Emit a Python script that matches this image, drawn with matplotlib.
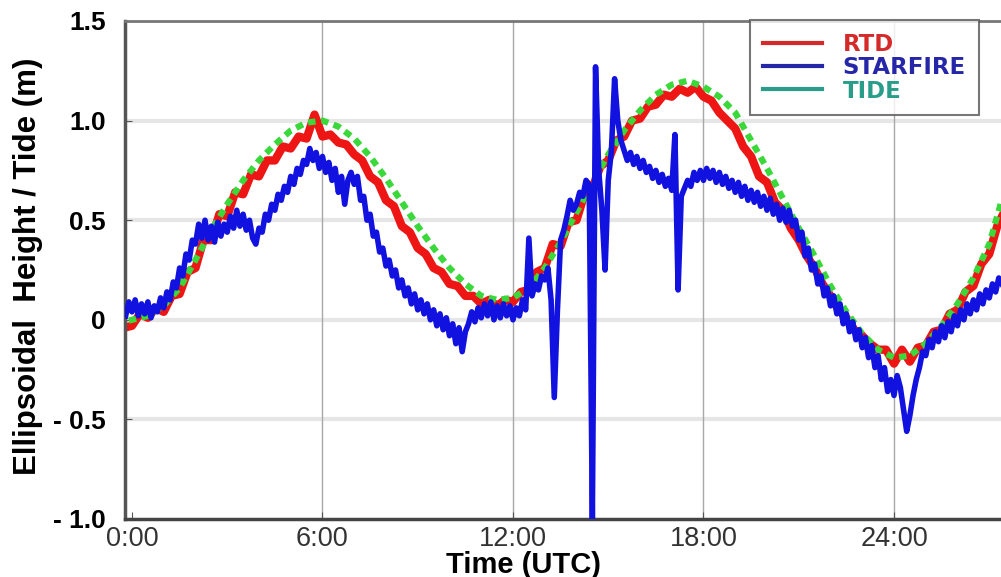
import numpy as np
import matplotlib.pyplot as plt
from matplotlib.lines import Line2D

# ---- data (hours UTC, metres) ----
# TIDE, sampled every 0.5 h starting at -0.5 h
tide_t0, tide_dt = -0.5, 0.5
tide = [-0.02,
        0.00, 0.02, 0.07, 0.16, 0.30, 0.45, 0.58, 0.70, 0.80, 0.88,
        0.95, 0.99, 1.00, 0.97, 0.91, 0.82, 0.71, 0.59, 0.47, 0.36,
        0.26, 0.18, 0.12, 0.10, 0.11, 0.16, 0.26, 0.39, 0.54, 0.69,
        0.83, 0.95, 1.05, 1.13, 1.18, 1.20, 1.17, 1.12, 1.04, 0.90,
        0.76, 0.61, 0.46, 0.32, 0.17, 0.04, -0.07, -0.15, -0.19, -0.18,
        -0.12, -0.03, 0.08, 0.21, 0.38, 0.66]

# RTD, sampled every 0.25 h starting at -0.25 h
rtd_t0, rtd_dt = -0.25, 0.25
rtd = [-0.04,
       -0.03, 0.03, 0.01, 0.06,
       0.04, 0.12, 0.13, 0.24,
       0.26, 0.40, 0.40, 0.53,
       0.52, 0.64, 0.63, 0.73,
       0.72, 0.80, 0.80, 0.87,
       0.86, 0.92, 0.91, 1.03,
       0.92, 0.93, 0.89, 0.88,
       0.83, 0.80, 0.72, 0.69,
       0.60, 0.57, 0.47, 0.44,
       0.36, 0.33, 0.26, 0.24,
       0.18, 0.17, 0.12, 0.12,
       0.08, 0.10, 0.07, 0.10,
       0.09, 0.14, 0.15, 0.24,
       0.26, 0.38, 0.37, 0.49,
       0.50, 0.63, 0.66, 0.77,
       0.80, 0.90, 0.92, 1.00,
       1.01, 1.07, 1.08, 1.13,
       1.12, 1.16, 1.14, 1.17,
       1.12, 1.10, 1.04, 1.00,
       0.96, 0.87, 0.82, 0.72,
       0.69, 0.59, 0.55, 0.46,
       0.40, 0.32, 0.26, 0.18,
       0.12, 0.05, 0.01, -0.05,
       -0.08, -0.12, -0.15, -0.15,
       -0.22, -0.15, -0.21, -0.14,
       -0.13, -0.06, -0.05, 0.03,
       0.05, 0.14, 0.17, 0.28,
       0.33, 0.47, 0.55]

# STARFIRE, sampled every 0.1 h starting at -0.2 h
sf_t0, sf_dt = -0.2, 0.1
starfire = [0.02, 0.09,
    0.04, 0.10, 0.02, 0.08, 0.03, 0.09, 0.01, 0.07, 0.04, 0.11,
    0.06, 0.14, 0.10, 0.19, 0.16, 0.26, 0.22, 0.33, 0.30, 0.40,
    0.38, 0.48, 0.41, 0.50, 0.40, 0.47, 0.39, 0.49, 0.42, 0.48,
    0.44, 0.52, 0.46, 0.55, 0.47, 0.53, 0.45, 0.50, 0.41, 0.38,
    0.46, 0.44, 0.53, 0.50, 0.58, 0.55, 0.63, 0.60, 0.67, 0.64,
    0.72, 0.68, 0.76, 0.73, 0.80, 0.78, 0.86, 0.80, 0.84, 0.76,
    0.82, 0.74, 0.79, 0.70, 0.76, 0.64, 0.72, 0.58, 0.70, 0.74,
    0.68, 0.72, 0.60, 0.62, 0.50, 0.53, 0.42, 0.44, 0.34, 0.36,
    0.27, 0.30, 0.22, 0.25, 0.16, 0.20, 0.12, 0.16, 0.08, 0.13,
    0.05, 0.10, 0.03, 0.08, 0.00, 0.05, -0.03, 0.03, -0.05, 0.01,
    -0.08, -0.02, -0.12, -0.04, -0.16, -0.06, -0.02, 0.04, -0.01, 0.06,
    0.01, 0.08, 0.02, 0.09, 0.00, 0.07, 0.01, 0.08, 0.02, 0.07,
    0.00, 0.06, 0.02, 0.10, 0.05, 0.41, 0.12, 0.18, 0.15, 0.22,
    0.20, 0.26, 0.10, -0.39, 0.05, 0.40, 0.45, 0.52, 0.60, 0.55,
    0.58, 0.64, 0.62, 0.70, 0.68, -1.00, 1.27, 0.75, 0.55, 0.25,
    0.70, 0.85, 1.21, 1.00, 0.90, 0.85, 0.80, 0.84, 0.78, 0.82,
    0.76, 0.80, 0.74, 0.77, 0.71, 0.75, 0.69, 0.73, 0.67, 0.71,
    0.65, 0.93, 0.15, 0.62, 0.66, 0.70, 0.67, 0.74, 0.70, 0.75,
    0.70, 0.76, 0.71, 0.75, 0.69, 0.74, 0.68, 0.72, 0.66, 0.70,
    0.64, 0.69, 0.62, 0.67, 0.60, 0.65, 0.59, 0.64, 0.57, 0.62,
    0.55, 0.61, 0.53, 0.58, 0.50, 0.56, 0.49, 0.55, 0.47, 0.50,
    0.40, 0.44, 0.32, 0.36, 0.25, 0.28, 0.18, 0.22, 0.12, 0.16,
    0.07, 0.12, 0.03, 0.08, -0.02, 0.03, -0.06, -0.01, -0.10, -0.05,
    -0.14, -0.09, -0.19, -0.13, -0.24, -0.18, -0.30, -0.24, -0.36, -0.30,
    -0.38, -0.28, -0.34, -0.45, -0.56, -0.48, -0.38, -0.30, -0.24, -0.16,
    -0.18, -0.10, -0.14, -0.06, -0.11, -0.03, -0.09, -0.01, -0.06, 0.02,
    -0.03, 0.05, 0.00, 0.08, 0.03, 0.10, 0.05, 0.13, 0.08, 0.15,
    0.11, 0.18, 0.14, 0.21, 0.18]

x_ticks = [0, 6, 12, 18, 24]
x_labels = ['0:00', '6:00', '12:00', '18:00', '24:00']
y_ticks = [-1.0, -0.5, 0, 0.5, 1.0, 1.5]
y_labels = ['- 1.0', '- 0.5', '0', '0.5', '1.0', '1.5']
series_names = ['RTD', 'STARFIRE', 'TIDE']
legend_colors = ['#d42a2a', '#2626a8', '#2a9d8a']

t_tide = tide_t0 + tide_dt * np.arange(len(tide))
t_rtd = rtd_t0 + rtd_dt * np.arange(len(rtd))
t_sf = sf_t0 + sf_dt * np.arange(len(starfire))

plt.rcParams['font.family'] = ['Liberation Sans', 'DejaVu Sans']

fig = plt.figure(figsize=(10.01, 5.77), dpi=100)
ax = fig.add_axes([125/1001, 58/577, 876/1001, 498/577])

# grid
for yv in y_ticks[1:-1]:
    ax.axhline(yv, color='#e6e6e6', lw=3, zorder=0)
for xv in x_ticks[1:]:
    ax.axvline(xv, color='#a8a8a8', lw=1, zorder=0)

ax.plot(t_rtd, rtd, color='#ee1515', lw=6, zorder=2)
ax.plot(t_tide, tide, color='#3ad83a', lw=4.5, ls=(0, (1.2, 0.9)), zorder=3)
ax.plot(t_sf, starfire, color='#1212e0', lw=4, zorder=4)

ax.set_xlim(-0.22, 27.37)
ax.set_ylim(-1.0, 1.5)
ax.set_xticks(x_ticks)
ax.set_xticklabels(x_labels, fontsize=19.5, color='#333333')
ax.set_yticks(y_ticks)
ax.set_yticklabels(y_labels, fontsize=19, fontweight='bold')
ax.tick_params(axis='both', direction='in', length=5, color='#555555')
ax.tick_params(axis='x', pad=5)
ax.tick_params(axis='y', pad=14)

ax.spines['right'].set_visible(False)
ax.spines['left'].set_color('#555555')
ax.spines['left'].set_linewidth(2.5)
ax.spines['bottom'].set_color('#444444')
ax.spines['bottom'].set_linewidth(2.5)
ax.spines['top'].set_color('#777777')
ax.spines['top'].set_linewidth(2)

fig.text(523/1001, 1 - 565/577, 'Time (UTC)', ha='center', va='center',
         fontsize=21, fontweight='bold')
fig.text(28/1001, 1 - 266/577, 'Ellipsoidal  Height / Tide (m)', ha='center',
         va='center', rotation=90, fontsize=22.5, fontweight='bold')

handles = [Line2D([], [], color=c, lw=3) for c in legend_colors]
leg = fig.legend(handles, series_names, loc='upper left',
                 bbox_to_anchor=(750/1001, 1 - 20/577), borderaxespad=0,
                 frameon=True, fancybox=False, handlelength=2.6,
                 handletextpad=0.9, labelspacing=0.02, borderpad=0.55,
                 prop={'family': 'DejaVu Sans', 'weight': 'bold', 'size': 16.5})
leg.get_frame().set_edgecolor('#555555')
leg.get_frame().set_linewidth(1.5)
for txt, c in zip(leg.get_texts(), legend_colors):
    txt.set_color(c)

fig.savefig('out.png', dpi=100)
